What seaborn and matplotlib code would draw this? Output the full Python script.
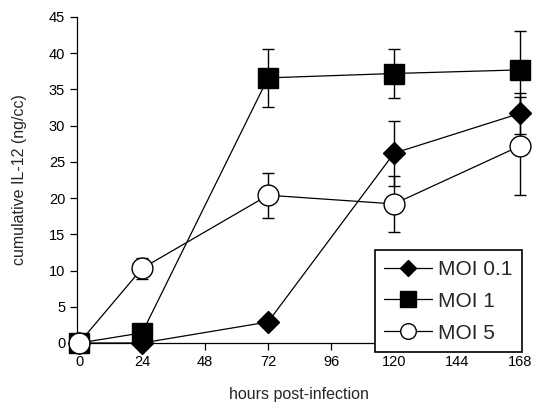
import matplotlib
matplotlib.use("Agg")
import matplotlib.pyplot as plt
import seaborn as sns
import pandas as pd

hours = [0, 24, 72, 120, 168]
moi01 = [0.0, 0.0, 2.9, 26.2, 31.7]
moi01_err = [0.0, 0.0, 0.0, 4.5, 2.8]
moi1 = [0.0, 1.4, 36.6, 37.2, 37.7]
moi1_err = [0.0, 0.0, 4.0, 3.4, 5.3]
moi5 = [0.0, 10.3, 20.4, 19.2, 27.2]
moi5_err = [0.0, 1.5, 3.1, 3.9, 6.8]
labels = ["MOI 0.1", "MOI 1", "MOI 5"]
xticks = [0, 24, 48, 72, 96, 120, 144, 168]
yticks = [0, 5, 10, 15, 20, 25, 30, 35, 40, 45]

sns.set_style("ticks")
plt.rcParams["font.family"] = ["Liberation Sans", "DejaVu Sans"]

fig = plt.figure(figsize=(5.36, 4.03), dpi=100)
ax = fig.add_axes([77 / 536, 1 - 343 / 403, (520 - 77) / 536, (343 - 17) / 403])

series = [
    (labels[0], moi01, moi01_err, "D", 11, "black"),
    (labels[1], moi1, moi1_err, "s", 15, "black"),
    (labels[2], moi5, moi5_err, "o", 15, "white"),
]

handles = []
for i, (lab, vals, errs, mk, ms, fc) in enumerate(series):
    df = pd.DataFrame({"hours": hours, "value": vals})
    ax.errorbar(hours, vals, yerr=errs, fmt="none", ecolor="black",
                elinewidth=1.0, capsize=4.2, capthick=1.0, zorder=2 + i * 0.1,
                clip_on=False)
    sns.lineplot(data=df, x="hours", y="value", ax=ax, color="black",
                 linewidth=0.9, marker=mk, markersize=ms,
                 markerfacecolor=fc, markeredgecolor="black",
                 markeredgewidth=1.0, label=lab, legend=False,
                 zorder=3 + i * 0.1, clip_on=False)
    handles.append(ax.lines[-1])

ax.set_xlim(-0.8, 168)
ax.set_ylim(0, 45)
ax.set_xticks(xticks)
ax.set_yticks(yticks)
ax.tick_params(axis="both", direction="out", length=5, width=0.9,
               labelsize=10.5, pad=3.5, colors="black")
for s in ["top", "right"]:
    ax.spines[s].set_visible(False)
for s in ["left", "bottom"]:
    ax.spines[s].set_linewidth(0.9)
    ax.spines[s].set_color("black")

ax.set_xlabel("hours post-infection", fontsize=11.5, labelpad=13)
ax.set_ylabel("cumulative IL-12 (ng/cc)", fontsize=11.5, labelpad=15.5)

leg = ax.legend(handles=handles, labels=labels, loc="lower right",
                bbox_to_anchor=(522 / 536, 1 - 352 / 403),
                bbox_transform=fig.transFigure, fontsize=15,
                frameon=True, fancybox=False, framealpha=1,
                edgecolor="black", handlelength=2.3, handletextpad=0.3,
                labelspacing=0.62, borderpad=0.45, borderaxespad=0,
                markerscale=0.75)
leg.get_frame().set_linewidth(1.2)
leg.set_zorder(10)

fig.savefig("out.png", dpi=100)
